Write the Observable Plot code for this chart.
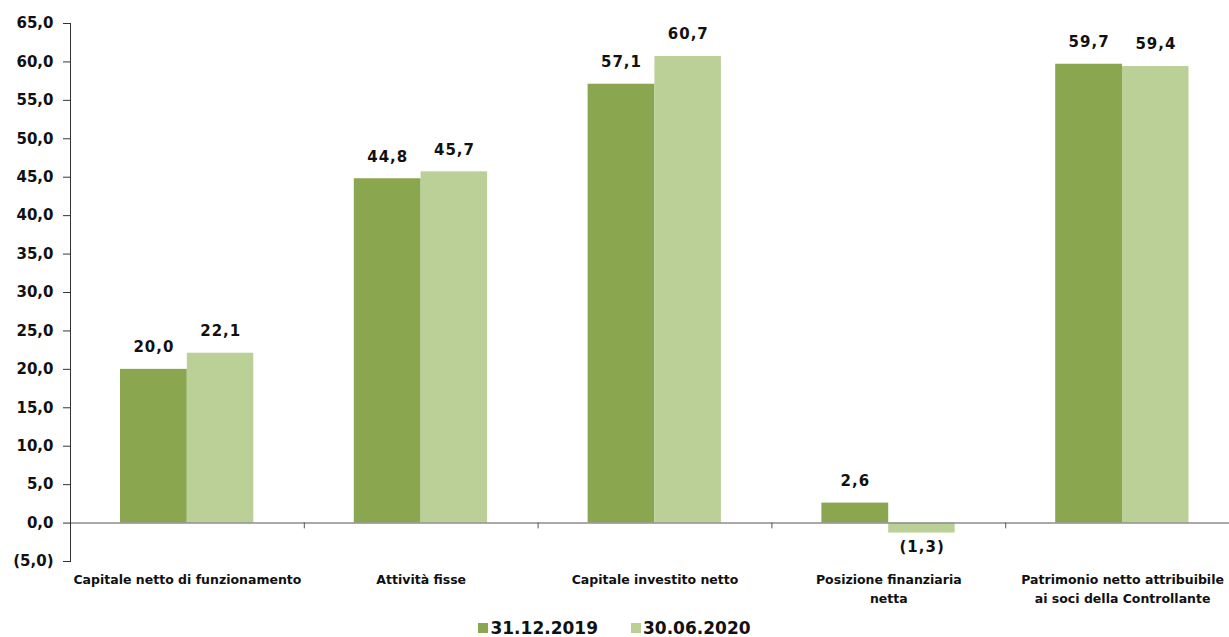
<!DOCTYPE html>
<html>
<head>
<meta charset="utf-8">
<script src="https://cdn.jsdelivr.net/npm/d3@7"></script>
<script src="https://cdn.jsdelivr.net/npm/@observablehq/plot@0.6"></script>
<style>
  body { margin: 0; background: #fff; font-family: "DejaVu Sans", sans-serif; }
  #chart { width: 1229px; }
  .value-label text { letter-spacing: 1px; }
  .legend { display: flex; justify-content: center; gap: 33px; margin-top: 6px;
            font: bold 17px "DejaVu Sans", sans-serif; color: #111; line-height: 20px; }
  .legend span { display: inline-flex; align-items: center; }
  .legend i { display: inline-block; width: 10px; height: 10px; margin-right: 2px; }
</style>
</head>
<body>
<div id="chart"></div>
<script>
// Categories on the x axis (line breaks where the label wraps)
const categories = [
  "Capitale netto di funzionamento",
  "Attività fisse",
  "Capitale investito netto",
  "Posizione finanziaria\nnetta",
  "Patrimonio netto attribuibile\nai soci della Controllante"
];

// Two reporting dates
const series = ["31.12.2019", "30.06.2020"];
const values2019 = [20.0, 44.8, 57.1, 2.6, 59.7];
const values2020 = [22.1, 45.7, 60.7, -1.3, 59.4];
const seriesColors = ["#8aa64e", "#bbd097"];

// Y axis ticks
const yTicks = [-5, 0, 5, 10, 15, 20, 25, 30, 35, 40, 45, 50, 55, 60, 65];

// Italian-style number format, negatives in parentheses
const fmt = v => {
  const s = Math.abs(v).toFixed(1).replace(".", ",");
  return v < 0 ? `(${s})` : s;
};

const rows = categories.flatMap((c, i) => [
  {category: c, series: series[0], value: values2019[i]},
  {category: c, series: series[1], value: values2020[i]}
]);
const first = rows.filter(d => d.series === series[0]);
const second = rows.filter(d => d.series === series[1]);

const half = 1169 / 5 / 2; // half of one category band

const valueLabels = (data, dx) => [
  Plot.text(data.filter(d => d.value >= 0), {
    x: "category", y: "value", text: d => fmt(d.value), dx, dy: -22,
    fontSize: 15, fill: "#111", className: "value-label"
  }),
  Plot.text(data.filter(d => d.value < 0), {
    x: "category", y: "value", text: d => fmt(d.value), dx, dy: 14,
    fontSize: 15, fill: "#111", className: "value-label"
  })
];

const chart = Plot.plot({
  width: 1229,
  height: 612,
  marginTop: 23,
  marginLeft: 70,
  marginRight: -10,
  marginBottom: 51,
  style: {fontFamily: "DejaVu Sans, sans-serif", fontWeight: "bold", color: "#111", background: "#fff"},
  x: {domain: categories, padding: 0, round: false},
  y: {domain: [-5, 65]},
  marks: [
    Plot.barY(first, {x: "category", y: "value", fill: seriesColors[0], insetLeft: 50, insetRight: 117}),
    Plot.barY(second, {x: "category", y: "value", fill: seriesColors[1], insetLeft: 116.8, insetRight: 50.5}),
    Plot.ruleY([0], {stroke: "#8c8c8c", strokeWidth: 1.5}),
    Plot.ruleX(categories.slice(0, -1), {x: d => d, y1: 0, y2: -0.75, dx: half, stroke: "#555"}),
    Plot.frame({anchor: "left", stroke: "#333"}),
    Plot.axisY({ticks: yTicks, tickFormat: fmt, tickSize: 7, tickPadding: 10, fontSize: 15, stroke: "#333", label: null}),
    Plot.axisX({tickSize: 0, tickPadding: 9, fontSize: 12.5, lineHeight: 1.5, label: null}),
    ...valueLabels(first, -half + 83.4),
    ...valueLabels(second, -half + 150.2)
  ]
});

document.getElementById("chart").append(chart);

// Legend below the plot
const legend = document.createElement("div");
legend.className = "legend";
series.forEach((s, i) => {
  const item = document.createElement("span");
  const sw = document.createElement("i");
  sw.style.background = seriesColors[i];
  item.append(sw, document.createTextNode(s));
  legend.append(item);
});
document.getElementById("chart").append(legend);
</script>
</body>
</html>
